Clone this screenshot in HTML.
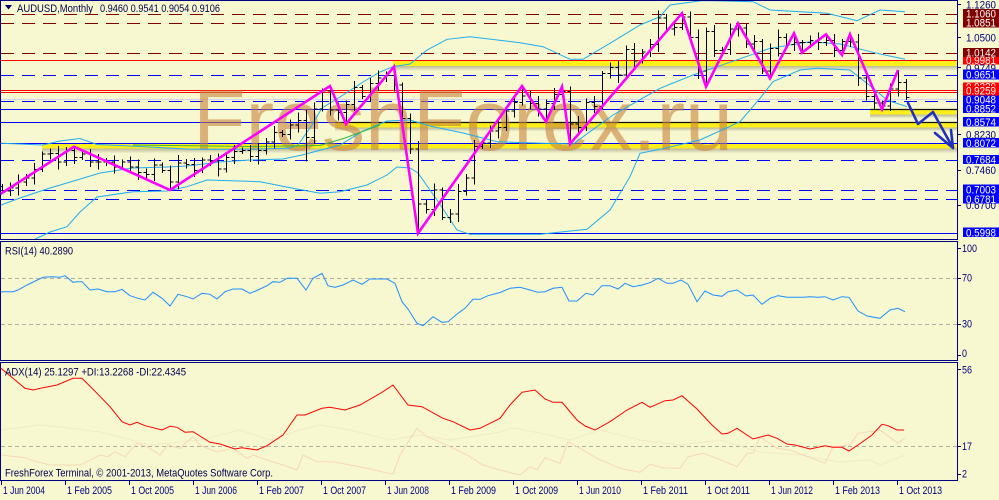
<!DOCTYPE html>
<html><head><meta charset="utf-8">
<style>
html,body{margin:0;padding:0;background:#F7F7D0;width:999px;height:500px;overflow:hidden}
svg{display:block}
text{font-family:"Liberation Sans",sans-serif;font-size:11px}
</style></head>
<body>
<svg xmlns="http://www.w3.org/2000/svg" width="999" height="500" viewBox="0 0 999 500">
<defs>
<clipPath id="cm"><rect x="1" y="1" width="956.5" height="238"/></clipPath>
<clipPath id="cr"><rect x="1" y="242" width="956.5" height="118"/></clipPath>
<clipPath id="ca"><rect x="1" y="363" width="956.5" height="117"/></clipPath>
<linearGradient id="sh" x1="0" y1="0" x2="0" y2="1">
<stop offset="0" stop-color="#6e6e58" stop-opacity="0.45"/>
<stop offset="1" stop-color="#6e6e58" stop-opacity="0"/>
</linearGradient>
</defs>
<rect width="999" height="500" fill="#F7F7D0"/>

<g clip-path="url(#cm)">
<g stroke="#800000" stroke-width="1" stroke-dasharray="13 8">
<line x1="1" y1="14.5" x2="957" y2="14.5"/>
<line x1="1" y1="23.5" x2="957" y2="23.5"/>
<line x1="1" y1="53.5" x2="957" y2="53.5"/>
</g>
<g stroke="#0000FF" stroke-width="1" stroke-dasharray="13 8">
<line x1="1" y1="75.5" x2="957" y2="75.5"/>
<line x1="1" y1="101.5" x2="957" y2="101.5"/>
<line x1="1" y1="160.5" x2="957" y2="160.5"/>
<line x1="1" y1="190.5" x2="957" y2="190.5"/>
<line x1="1" y1="199.5" x2="957" y2="199.5"/>
</g>
<line x1="1" y1="99.5" x2="957" y2="99.5" stroke="#D4D4EE" stroke-width="1"/>
<rect x="393" y="61" width="564" height="5" fill="#FFEF1A"/>
<rect x="393" y="66" width="564" height="5" fill="url(#sh)"/>
<rect x="870" y="110" width="87" height="4.5" fill="#FFEF1A"/>
<rect x="870" y="114.5" width="87" height="4" fill="url(#sh)"/>
<rect x="335" y="123" width="622" height="4.5" fill="#FFEF1A"/>
<rect x="335" y="127.5" width="622" height="4" fill="url(#sh)"/>
<rect x="42" y="144" width="915" height="4.5" fill="#FFEF1A"/>
<rect x="42" y="148.5" width="915" height="5" fill="url(#sh)"/>
<g stroke="#FF0000" stroke-width="1">
<line x1="1" y1="60.5" x2="957" y2="60.5"/>
<line x1="1" y1="90.5" x2="957" y2="90.5"/>
<line x1="1" y1="92.5" x2="957" y2="92.5"/>
</g>
<g stroke="#0000FF" stroke-width="1">
<line x1="1" y1="109.5" x2="870" y2="109.5"/>
<line x1="1" y1="122.5" x2="335" y2="122.5"/>
<line x1="1" y1="143.5" x2="957" y2="143.5"/>
<line x1="1" y1="233.5" x2="957" y2="233.5"/>
</g>
<g stroke="#101010" stroke-width="1.3">
<line x1="870" y1="109.5" x2="957" y2="109.5"/>
<line x1="335" y1="122.5" x2="957" y2="122.5"/>
</g>
<text x="193" y="150" font-size="86" fill="#C8843C" opacity="0.6" textLength="540" lengthAdjust="spacingAndGlyphs" style="font-size:86px">FreshForex.ru</text>
<g fill="none" stroke="#1EAEF0" stroke-width="1">
<polyline points="1,143.3 20,144 43,145 60,141 80,138.5 97,144.5 130,146 187,149 217,149.3 257,149 290,148 298,145 312,125 322,108 340,97 363,82 380,72 393,66.7 410,64 427,50 447,39.3 470,36.7 520,42.7 543,46.7 570,59.3 583,59.3 610,43.3 640,25 660,16.7 670,5 703,0.5 753,1.7 770,10 827,13.3 857,20.7 880,10 905,11.7"/>
<polyline points="1,205 20,198 50,188 77,180 100,173 133,168 167,167 187,166 220,162 250,160 283,159 302,155 340,145 363,131 387,121 410,120 430,126 463,133 497,141.7 543,143.3 573,144 613,115 660,88.3 693,75 727,63.3 770,48.3 810,41.7 840,44 877,53.3 905,59.3"/>
<polyline points="33,240 50,232 67,226.7 80,212 97,197 133,191.7 167,191 187,186.7 207,180 240,181 260,181.7 293,188.3 320,193.3 340,191.7 367,185 387,175 397,167 410,168 418,173 437,200 457,230 470,234.3 540,234.3 587,229.3 610,210 630,176.7 640,153.3 660,149.3 700,140 740,121.7 760,98.3 773,81.7 800,70 817,68.3 850,70 867,83.3 887,100 907,106.7"/>
</g>
<polyline fill="none" stroke="#3CB43C" stroke-width="1" points="133,145 250,146.5 320,145.5 345,138 380,125"/>
<path id="bars" d="" fill="none" stroke="#000000" stroke-width="1" shape-rendering="crispEdges"/>
<polyline fill="none" stroke="#FF00FF" stroke-width="2.6" stroke-linejoin="miter" points="0,194 2,193 74,146.7 170,190 330,86 346,124 394,66.7 418,233.3 522,86 546,121.7 562,86.7 570,144 682,13.3 706,86.7 738,23.3 770,78.3 794,33.3 802,52.7 826,34.3 842,55 850,34.3 882,109.3 898,70"/>
<g fill="none" stroke="#1F2FC0" stroke-width="2.6" stroke-linejoin="round" stroke-linecap="round">
<polyline points="908,103 918,124 933,112 953,148"/>
<polyline points="935,133 953,148 951,130"/>
</g>
</g>

<polygon points="5,5 12,5 8.5,9.5" fill="#000060"/>
<text x="17" y="12" fill="#000050" textLength="76" lengthAdjust="spacingAndGlyphs">AUDUSD,Monthly</text>
<text x="100" y="12" fill="#000050" textLength="120" lengthAdjust="spacingAndGlyphs">0.9460 0.9541 0.9054 0.9106</text>

<g clip-path="url(#cr)">
<g stroke="#B0B0A0" stroke-width="1" stroke-dasharray="4 3">
<line x1="1" y1="278.5" x2="957" y2="278.5"/>
<line x1="1" y1="324.5" x2="957" y2="324.5"/>
</g>
<polyline fill="none" stroke="#1E90FF" stroke-width="1" points="1,291.7 13,291.7 18,290 27,285 43,277.3 52,276.7 60,277.3 65,275.7 73,282.3 77,281.7 82,281.7 90,290 98,289 107,291.7 115,291.7 122,289.3 130,295.7 138,298.3 145,300 153,292.3 162,298.3 170,306 178,294.3 187,296.7 193,299 202,293.3 210,294.3 217,299 225,291.7 233,289 242,289 250,293.3 258,290 267,285.7 273,281.7 280,282.3 287,278.3 297,278.3 306,290 313,278.3 322,273.3 328,285.7 335,287.3 343,285 353,280 362,284.3 370,279 387,279 395,283.3 402,301.7 408,309 417,323.3 423,325.7 433,316.7 442,322.3 448,321.7 458,313.3 465,308.3 473,299.3 480,299.3 488,295.7 500,292.5 510,288.3 520,287.3 530,290 538,292.3 545,291.7 553,288.3 562,287.3 569,301 577,301 586,293.3 593,295 602,285.7 610,285.7 618,289 625,283.3 633,286.7 642,285 650,282.7 658,278.3 667,283.3 673,283.3 681,280 688,284.3 697,301.7 705,291 713,295 722,296.3 728,291.7 737,290 746,296 753,295 762,304.3 770,298.3 778,295.7 787,297.3 803,297.3 810,296.7 818,297.3 825,296.7 833,300 842,296.7 849,297.3 858,311 867,316 880,318.3 890,310 898,308.3 905,311.7"/>
</g>
<text x="5" y="254.5" fill="#000050" textLength="68" lengthAdjust="spacingAndGlyphs">RSI(14) 40.2890</text>

<g clip-path="url(#ca)">
<line x1="1" y1="446.5" x2="957" y2="446.5" stroke="#B0B0A0" stroke-width="1" stroke-dasharray="4 3"/>
<polyline fill="none" stroke="#F1ECC4" stroke-width="1" points="1,430 40,425 70,428 100,432 150,445 200,440 240,430 270,440 300,430 320,425 350,430 390,440 420,435 450,440 500,432 513,428 540,433 570,440 600,430 640,440 680,445 720,440 760,452 800,455 840,462 870,460 880,465 905,455"/>
<polyline fill="none" stroke="#F6D8B8" stroke-width="1" points="1,455 25,457.7 33,460.7 50,465 80,465 87,461.7 100,455 108,456.7 115,451.7 125,456.7 137,443.3 147,446.7 160,455 168,445 180,448.3 187,441.7 193,436.7 200,445 207,448.3 217,451.7 233,448.3 247,458.3 253,455 267,460 283,465 297,470 303,455 317,461.7 333,461.7 350,465 367,468.3 393,474.3 400,455 417,428.3 427,436.7 443,443.3 467,455 483,465 500,470 520,475 530,466.7 537,470 545,457.7 560,463.3 568,441.7 580,448.3 597,458.3 620,468.3 640,472.3 650,464.3 663,467.7 680,468.3 688,456.7 703,453.3 717,458.3 737,466.7 747,453.3 753,453.3 760,436.7 777,448.3 790,450 825,463.3 833,446.7 850,445 858,433.3 880,430 898,443.3 905,438"/>
<polyline fill="none" stroke="#FF0000" stroke-width="1" points="1,368.3 7,373.3 25,388.3 33,390 43,387.7 57,385 73,378.3 82,378.3 97,393.3 110,406.7 122,421.7 130,425 137,422.3 145,425.7 162,430 170,426.3 177,427.3 185,432.3 193,431.7 210,442.3 220,444 235,449 242,447.7 257,450 267,445.7 283,435 297,415 305,415 322,408.3 330,407.3 345,410 360,405 383,391.7 393,385 408,405 422,406.7 443,418.3 453,421.7 470,430 480,428.3 500,418.3 510,405 522,392.3 535,390 545,399 553,402.3 562,402.3 577,420 585,426 595,430 610,421.7 627,410 642,402.3 650,407.3 665,400.7 673,400 682,395.7 697,409 712,425 722,434 728,433.3 737,428.3 753,439 768,435 777,438.3 787,444 795,445 810,449 825,445.7 833,447.3 842,447.3 849,451 858,445 872,435 882,424.3 888,425.7 897,430 904,430"/>
</g>
<text x="5" y="375.5" fill="#000050" textLength="181" lengthAdjust="spacingAndGlyphs">ADX(14) 25.1297 +DI:13.2268 -DI:22.4345</text>
<text x="5" y="476.5" fill="#000050" textLength="268" lengthAdjust="spacingAndGlyphs">FreshForex Terminal, © 2001-2013, MetaQuotes Software Corp.</text>

<g fill="none" stroke="#000080" stroke-width="1">
<rect x="0.5" y="0.5" width="957" height="239"/>
<rect x="0.5" y="241.5" width="957" height="119"/>
<rect x="0.5" y="362.5" width="957" height="118"/>
</g>

<g stroke="#000080" stroke-width="1">
<line x1="958" y1="4.5" x2="961" y2="4.5"/>
<line x1="958" y1="37.5" x2="961" y2="37.5"/>
<line x1="958" y1="67.5" x2="961" y2="67.5"/>
<line x1="958" y1="134.5" x2="961" y2="134.5"/>
<line x1="958" y1="170.5" x2="961" y2="170.5"/>
<line x1="958" y1="205.5" x2="961" y2="205.5"/>
<line x1="958" y1="248.5" x2="961" y2="248.5"/>
<line x1="958" y1="278.5" x2="961" y2="278.5"/>
<line x1="958" y1="324.5" x2="961" y2="324.5"/>
<line x1="958" y1="355.5" x2="961" y2="355.5"/>
<line x1="958" y1="369.5" x2="961" y2="369.5"/>
<line x1="958" y1="446.5" x2="961" y2="446.5"/>
<line x1="958" y1="474.5" x2="961" y2="474.5"/>
</g>

<g fill="#000080">
<text x="966" y="8.5" textLength="30" lengthAdjust="spacingAndGlyphs">1.1260</text>
<text x="966" y="41.7" textLength="30" lengthAdjust="spacingAndGlyphs">1.0500</text>
<text x="966" y="72" textLength="30" lengthAdjust="spacingAndGlyphs">0.9749</text>
<text x="966" y="138.5" textLength="30" lengthAdjust="spacingAndGlyphs">0.8230</text>
<text x="966" y="174" textLength="30" lengthAdjust="spacingAndGlyphs">0.7460</text>
<text x="966" y="209" textLength="30" lengthAdjust="spacingAndGlyphs">0.6700</text>
</g>
<g>
<rect x="963" y="9" width="36" height="9.5" fill="#800000"/>
<rect x="963" y="18.5" width="36" height="9" fill="#800000"/>
<rect x="963" y="55.5" width="36" height="9" fill="#FF0000"/>
<rect x="963" y="82.5" width="36" height="9" fill="#FF0000"/>
<rect x="963" y="95" width="36" height="9" fill="#0000FF"/>
</g>
<g fill="#FFFFFF">
<text x="966" y="17.5" textLength="30" lengthAdjust="spacingAndGlyphs">1.1060</text>
<text x="966" y="26.5" textLength="30" lengthAdjust="spacingAndGlyphs">1.0851</text>
<text x="966" y="63.8" textLength="30" lengthAdjust="spacingAndGlyphs">0.9981</text>
<text x="966" y="90.5" textLength="30" lengthAdjust="spacingAndGlyphs">0.9220</text>
<text x="966" y="103.3" textLength="30" lengthAdjust="spacingAndGlyphs">0.9048</text>
</g>
<g>
<rect x="963" y="48" width="36" height="9" fill="#800000"/>
<rect x="963" y="69.5" width="36" height="10" fill="#0000FF"/>
<rect x="963" y="86" width="36" height="9.5" fill="#FF0000"/>
<rect x="963" y="103.5" width="36" height="9.5" fill="#0000FF"/>
<rect x="963" y="117" width="36" height="9.5" fill="#0000FF"/>
<rect x="963" y="138" width="36" height="9.5" fill="#0000FF"/>
<rect x="963" y="155" width="36" height="9" fill="#0000FF"/>
<rect x="963" y="184.5" width="36" height="9.5" fill="#0000FF"/>
<rect x="963" y="194" width="36" height="9.5" fill="#0000FF"/>
<rect x="963" y="227.5" width="36" height="9.5" fill="#0000FF"/>
</g>
<g fill="#FFFFFF">
<text x="966" y="56.5" textLength="30" lengthAdjust="spacingAndGlyphs">1.0142</text>
<text x="966" y="78.5" textLength="30" lengthAdjust="spacingAndGlyphs">0.9651</text>
<text x="966" y="94.7" textLength="30" lengthAdjust="spacingAndGlyphs">0.9259</text>
<text x="966" y="112.3" textLength="30" lengthAdjust="spacingAndGlyphs">0.8852</text>
<text x="966" y="125.8" textLength="30" lengthAdjust="spacingAndGlyphs">0.8574</text>
<text x="966" y="146.8" textLength="30" lengthAdjust="spacingAndGlyphs">0.8072</text>
<text x="966" y="163.5" textLength="30" lengthAdjust="spacingAndGlyphs">0.7684</text>
<text x="966" y="193.3" textLength="30" lengthAdjust="spacingAndGlyphs">0.7003</text>
<text x="966" y="202.8" textLength="30" lengthAdjust="spacingAndGlyphs">0.6781</text>
<text x="966" y="236.3" textLength="30" lengthAdjust="spacingAndGlyphs">0.5998</text>
</g>

<g fill="#000080">
<text x="962" y="252" textLength="15" lengthAdjust="spacingAndGlyphs">100</text>
<text x="962" y="281.7" textLength="10" lengthAdjust="spacingAndGlyphs">70</text>
<text x="962" y="327.7" textLength="10" lengthAdjust="spacingAndGlyphs">30</text>
<text x="962" y="357" textLength="5" lengthAdjust="spacingAndGlyphs">0</text>
<text x="962" y="373.3" textLength="10" lengthAdjust="spacingAndGlyphs">56</text>
<text x="962" y="450" textLength="10" lengthAdjust="spacingAndGlyphs">17</text>
<text x="962" y="477.3" textLength="5" lengthAdjust="spacingAndGlyphs">2</text>
</g>

<g stroke="#000080" stroke-width="1">
<line x1="1.5" y1="481" x2="1.5" y2="485"/>
<line x1="65.5" y1="481" x2="65.5" y2="485"/>
<line x1="129.5" y1="481" x2="129.5" y2="485"/>
<line x1="193.5" y1="481" x2="193.5" y2="485"/>
<line x1="257.5" y1="481" x2="257.5" y2="485"/>
<line x1="321.5" y1="481" x2="321.5" y2="485"/>
<line x1="385.5" y1="481" x2="385.5" y2="485"/>
<line x1="449.5" y1="481" x2="449.5" y2="485"/>
<line x1="513.5" y1="481" x2="513.5" y2="485"/>
<line x1="577.5" y1="481" x2="577.5" y2="485"/>
<line x1="641.5" y1="481" x2="641.5" y2="485"/>
<line x1="705.5" y1="481" x2="705.5" y2="485"/>
<line x1="769.5" y1="481" x2="769.5" y2="485"/>
<line x1="833.5" y1="481" x2="833.5" y2="485"/>
<line x1="897.5" y1="481" x2="897.5" y2="485"/>
</g>
<g fill="#000080">
<text x="3" y="494" textLength="42" lengthAdjust="spacingAndGlyphs">1 Jun 2004</text>
<text x="67" y="494" textLength="45" lengthAdjust="spacingAndGlyphs">1 Feb 2005</text>
<text x="131" y="494" textLength="43" lengthAdjust="spacingAndGlyphs">1 Oct 2005</text>
<text x="195" y="494" textLength="42" lengthAdjust="spacingAndGlyphs">1 Jun 2006</text>
<text x="259" y="494" textLength="45" lengthAdjust="spacingAndGlyphs">1 Feb 2007</text>
<text x="323" y="494" textLength="43" lengthAdjust="spacingAndGlyphs">1 Oct 2007</text>
<text x="387" y="494" textLength="42" lengthAdjust="spacingAndGlyphs">1 Jun 2008</text>
<text x="451" y="494" textLength="45" lengthAdjust="spacingAndGlyphs">1 Feb 2009</text>
<text x="515" y="494" textLength="43" lengthAdjust="spacingAndGlyphs">1 Oct 2009</text>
<text x="579" y="494" textLength="42" lengthAdjust="spacingAndGlyphs">1 Jun 2010</text>
<text x="643" y="494" textLength="45" lengthAdjust="spacingAndGlyphs">1 Feb 2011</text>
<text x="707" y="494" textLength="43" lengthAdjust="spacingAndGlyphs">1 Oct 2011</text>
<text x="771" y="494" textLength="42" lengthAdjust="spacingAndGlyphs">1 Jun 2012</text>
<text x="835" y="494" textLength="45" lengthAdjust="spacingAndGlyphs">1 Feb 2013</text>
<text x="899" y="494" textLength="43" lengthAdjust="spacingAndGlyphs">1 Oct 2013</text>
</g>
</svg>
<script>
(function(){
var C=[0.695,0.702,0.715,0.725,0.745,0.780,0.781,
0.762,0.788,0.772,0.780,0.762,0.762,0.762,0.750,0.762,0.750,0.738,0.733,
0.755,0.742,0.716,0.760,0.756,0.742,0.766,0.764,0.746,0.772,0.786,0.789,
0.774,0.788,0.808,0.830,0.826,0.848,0.858,0.818,0.885,0.926,0.882,0.876,
0.895,0.934,0.914,0.944,0.956,0.962,0.940,0.862,0.792,0.665,0.652,0.697,
0.633,0.641,0.693,0.725,0.798,0.806,0.834,0.842,0.880,0.899,0.915,0.897,
0.885,0.897,0.918,0.925,0.850,0.842,0.900,0.890,0.967,0.980,0.963,1.022,
0.996,1.017,1.034,1.095,1.070,1.073,1.098,1.050,0.972,1.064,1.020,1.022,
1.070,1.072,1.035,1.041,0.972,1.024,1.050,1.034,1.038,1.038,1.043,1.039,
1.043,1.020,1.041,1.040,0.956,0.913,0.898,0.892,0.931,0.946,0.9106];
function Y(p){return 491.1-432*p;}
var OH={9:146.7,38:110,41:86,49:66.7,65:86,70:86.7,85:13.3,92:23.3,99:33.3,103:34.3,106:34.3,112:70,113:Y(0.9541)};
var OL={0:193,21:190,38:161.7,43:124,52:233.3,68:121.7,71:144,88:86.7,96:78.3,100:52.7,105:55,110:109.3,113:Y(0.9054)};
var d='';
for(var i=0;i<C.length;i++){
var x=2+8*i+0.5;
var o=i?C[i-1]:0.705,c=C[i];
var e=0.006+0.012*(((i*7)%5)/4);
var yh=(i in OH)?OH[i]:Y(Math.max(o,c)+e);
var yl=(i in OL)?OL[i]:Y(Math.min(o,c)-e);
var yo=Y(o),yc=Y(c);
if(yh<1)yh=1;
d+='M'+x+' '+yh.toFixed(1)+'V'+yl.toFixed(1)+'M'+(x-3)+' '+yo.toFixed(1)+'H'+x+'M'+x+' '+yc.toFixed(1)+'H'+(x+3);
}
document.getElementById('bars').setAttribute('d',d);
})();
</script>
</body></html>
